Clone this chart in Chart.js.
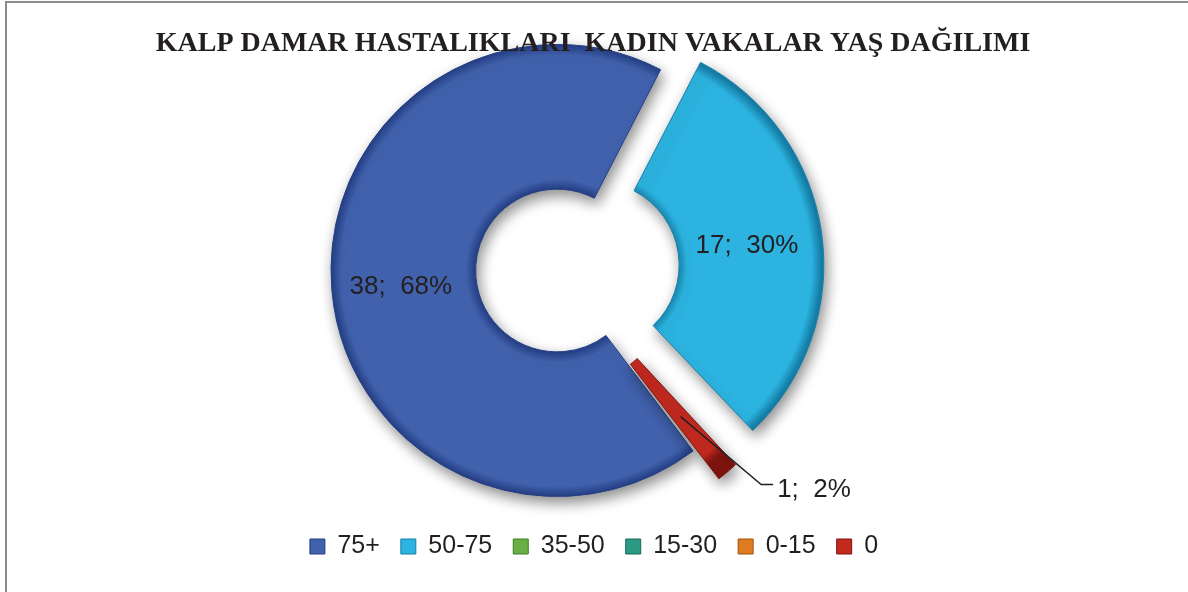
<!DOCTYPE html>
<html>
<head>
<meta charset="utf-8">
<script src="https://cdn.jsdelivr.net/npm/chart.js@4.4.1/dist/chart.umd.min.js"></script>
<style>
  html, body { margin: 0; padding: 0; background: #fff; }
  #wrap { position: relative; width: 1188px; height: 592px; }
  #frame { position: absolute; left: 5px; top: 1px; right: -4px; bottom: -4px;
           border-top: 2px solid #8c8c8c; border-left: 2px solid #8c8c8c; pointer-events: none; }
</style>
</head>
<body>
<div id="wrap">
  <canvas id="chart" width="1188" height="592"></canvas>
  <div id="frame"></div>
</div>
<script>
"use strict";

const TITLE = "KALP DAMAR HASTALIKLARI  KADIN VAKALAR YAŞ DAĞILIMI";
const AGE_GROUPS = ["75+", "50-75", "35-50", "15-30", "0-15", "0"];
const CASES = [38, 17, 0, 0, 0, 1];

const COLORS = ["#4161ad", "#2cb3e0", "#6aaf45", "#2a9a85", "#e07b22", "#c2291f"];
const DARK = ["#243f85", "#157fa8", "#3f7d25", "#17685a", "#a2520f", "#7e140e"];
const EXPLODE = [0, 156, 0, 0, 0, 80];
const TEXT_COLOR = "#231f20";

const TOTAL = CASES.reduce(function(a, b) { return a + b; }, 0);

// same translation the arc element applies for its offset
function arcShift(arc) {
  const p = arc.getProps(["circumference"], true);
  const off = (arc.options.offset || 0) / 4;
  const fix = 1 - Math.sin(Math.min(Math.PI, p.circumference || 0));
  return off + off * fix;
}

function ringFill(context) {
  const i = context.dataIndex;
  const chart = context.chart;
  const area = chart.chartArea;
  if (!area || i === undefined) {
    return COLORS[i] || "#999";
  }
  const cx = (area.left + area.right) / 2;
  const cy = (area.top + area.bottom) / 2;
  const outer = 226;
  const inner = outer * 0.36;
  const g = chart.ctx.createRadialGradient(cx, cy, inner, cx, cy, outer);
  g.addColorStop(0, DARK[i]);
  g.addColorStop(0.07, COLORS[i]);
  g.addColorStop(0.93, COLORS[i]);
  g.addColorStop(1, DARK[i]);
  return g;
}

const shadowPlugin = {
  id: "shadow",
  beforeDatasetDraw(chart) {
    const ctx = chart.ctx;
    ctx.save();
    ctx.shadowColor = "rgba(0, 0, 0, 0.45)";
    ctx.shadowBlur = 14;
    ctx.shadowOffsetX = 3;
    ctx.shadowOffsetY = 6;
  },
  afterDatasetDraw(chart) {
    chart.ctx.restore();
  }
};

// the legend sits centred on the page, not under the ring
const legendShift = {
  id: "legendShift",
  afterLayout(chart) {
    const dx = chart.width / 2 - (chart.legend.left + chart.legend.right) / 2;
    chart.legend.left += dx;
    chart.legend.right += dx;
  }
};

const titlePlugin = {
  id: "bigTitle",
  afterDraw(chart) {
    const ctx = chart.ctx;
    ctx.save();
    ctx.font = "bold 28px 'Liberation Serif', 'Times New Roman', serif";
    ctx.fillStyle = TEXT_COLOR;
    ctx.textAlign = "center";
    ctx.textBaseline = "alphabetic";
    ctx.fillText(TITLE, 593, 51);
    ctx.restore();
  }
};

const sliceLabels = {
  id: "sliceLabels",
  afterDatasetsDraw(chart) {
    const ctx = chart.ctx;
    const meta = chart.getDatasetMeta(0);
    ctx.save();
    ctx.font = "26px 'Liberation Sans', Arial, sans-serif";
    ctx.fillStyle = TEXT_COLOR;
    ctx.strokeStyle = TEXT_COLOR;
    ctx.lineWidth = 1.5;
    meta.data.forEach(function(arc, i) {
      if (CASES[i] === 0) {
        return;
      }
      const p = arc.getProps(["x", "y", "startAngle", "endAngle", "innerRadius", "outerRadius", "circumference"], true);
      const mid = (p.startAngle + p.endAngle) / 2;
      const shift = arcShift(arc);
      const cos = Math.cos(mid);
      const sin = Math.sin(mid);
      const rMid = (p.innerRadius + p.outerRadius) / 2 + shift;
      const text = CASES[i] + ";  " + Math.round(CASES[i] / TOTAL * 100) + "%";
      if (p.circumference < 0.3) {
        const x0 = p.x + cos * rMid;
        const y0 = p.y + sin * rMid;
        const rOut = p.outerRadius + shift + 32;
        const x1 = p.x + Math.cos(mid - 0.06) * rOut;
        const y1 = p.y + Math.sin(mid - 0.06) * rOut;
        ctx.beginPath();
        ctx.moveTo(x0, y0);
        ctx.lineTo(x1, y1);
        ctx.lineTo(x1 + 12, y1);
        ctx.stroke();
        ctx.textAlign = "left";
        ctx.textBaseline = "middle";
        ctx.fillText(text, x1 + 16, y1 + 5);
      } else {
        ctx.textAlign = "center";
        ctx.textBaseline = "middle";
        ctx.fillText(text, p.x + cos * rMid - 3, p.y + sin * rMid + 3);
      }
    });
    ctx.restore();
  }
};

window.addEventListener("load", function() {
  const ctx = document.getElementById("chart").getContext("2d");
  new Chart(ctx, {
    type: "doughnut",
    data: {
      labels: AGE_GROUPS,
      datasets: [{
        data: CASES,
        backgroundColor: ringFill,
        borderColor: DARK,
        borderWidth: 1,
        offset: EXPLODE
      }]
    },
    options: {
      responsive: false,
      animation: false,
      rotation: 143,
      radius: 226,
      cutout: "36%",
      layout: {
        padding: {top: 28, bottom: 23, left: 0, right: 74}
      },
      plugins: {
        tooltip: {enabled: false},
        legend: {
          position: "bottom",
          labels: {
            boxWidth: 15,
            boxHeight: 15,
            padding: 21,
            color: TEXT_COLOR,
            font: {family: "'Liberation Sans', Arial, sans-serif", size: 25},
            generateLabels: function() {
              return AGE_GROUPS.map(function(label, i) {
                return {
                  text: label,
                  fillStyle: COLORS[i],
                  strokeStyle: DARK[i],
                  lineWidth: 1,
                  hidden: false,
                  index: i,
                  fontColor: TEXT_COLOR
                };
              });
            }
          }
        }
      }
    },
    plugins: [shadowPlugin, legendShift, sliceLabels, titlePlugin]
  });
});
</script>
</body>
</html>
